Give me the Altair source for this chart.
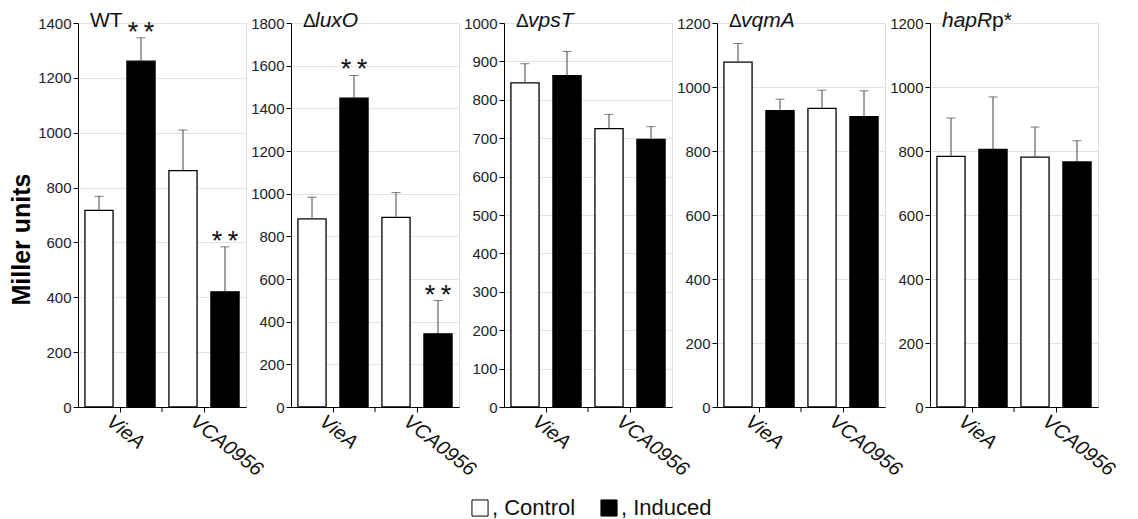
import altair as alt
import pandas as pd

FONT = "Liberation Sans"

panels = ["WT", "ΔluxO", "ΔvpsT", "ΔvqmA", "hapRp*"]
groups = ["VieA", "VCA0956"]
conditions = ["Control", "Induced"]

# order of bars in each panel: VieA Control, VieA Induced, VCA0956 Control, VCA0956 Induced
bar_group = ["VieA", "VieA", "VCA0956", "VCA0956"]
bar_cond = ["Control", "Induced", "Control", "Induced"]

means = {
    "WT":     [717, 1261, 862, 420],
    "ΔluxO":  [882, 1448, 889, 343],
    "ΔvpsT":  [844, 863, 725, 697],
    "ΔvqmA":  [1078, 926, 933, 907],
    "hapRp*": [783, 805, 781, 766],
}
err_tops = {
    "WT":     [768, 1346, 1010, 584],
    "ΔluxO":  [983, 1554, 1005, 499],
    "ΔvpsT":  [894, 926, 762, 730],
    "ΔvqmA":  [1136, 962, 990, 988],
    "hapRp*": [903, 969, 875, 832],
}
signif = {
    "WT":     [0, 1, 0, 1],
    "ΔluxO":  [0, 1, 0, 1],
    "ΔvpsT":  [0, 0, 0, 0],
    "ΔvqmA":  [0, 0, 0, 0],
    "hapRp*": [0, 0, 0, 0],
}
y_ticks = {
    "WT":     [0, 200, 400, 600, 800, 1000, 1200, 1400],
    "ΔluxO":  [0, 200, 400, 600, 800, 1000, 1200, 1400, 1600, 1800],
    "ΔvpsT":  [0, 100, 200, 300, 400, 500, 600, 700, 800, 900, 1000],
    "ΔvqmA":  [0, 200, 400, 600, 800, 1000, 1200],
    "hapRp*": [0, 200, 400, 600, 800, 1000, 1200],
}
# title pieces: (text, italic, x offset in px)
title_parts = {
    "WT":     [("WT", False, 0)],
    "ΔluxO":  [("Δ", False, 0), ("luxO", True, 12)],
    "ΔvpsT":  [("Δ", False, 0), ("vpsT", True, 12)],
    "ΔvqmA":  [("Δ", False, 0), ("vqmA", True, 12)],
    "hapRp*": [("hapR", True, 0), ("p*", False, 50)],
}

W, H = 168, 384


def make_panel(name, first):
    df = pd.DataFrame({
        "group": bar_group,
        "cond": bar_cond,
        "mean": means[name],
        "err": err_tops[name],
        "sig": signif[name],
    })
    base = alt.Chart(df)
    x = alt.X("group:N", sort=groups,
              scale=alt.Scale(paddingInner=0, paddingOuter=0),
              axis=alt.Axis(title=None, labelAngle=38, labelAlign="left",
                            labelBaseline="top", labelFont=FONT,
                            labelFontStyle="italic", labelFontSize=20,
                            labelColor="#111", labelPadding=-1, labelOffset=-5,
                            tickSize=5, tickColor="black", domainColor="black",
                            labelOverlap=False, grid=False))
    xo = alt.XOffset("cond:N", sort=conditions,
                     scale=alt.Scale(paddingInner=0.33, paddingOuter=0.165))
    yaxis = alt.Axis(values=y_ticks[name], format="d",
                     title="Miller units" if first else None,
                     titleFont=FONT, titleFontSize=25, titleFontWeight="bold",
                     titleColor="black", titlePadding=3, titleY=216,
                     labelFont=FONT, labelFontSize=15, labelColor="#222",
                     labelPadding=2, tickSize=5, tickColor="black",
                     domainColor="black", grid=True, gridColor="#e2e2e2",
                     gridWidth=1)
    yscale = alt.Scale(domain=[0, y_ticks[name][-1]], nice=False)

    bars = base.mark_bar(stroke="black", strokeWidth=1.3).encode(
        x=x, xOffset=xo,
        y=alt.Y("mean:Q", scale=yscale, axis=yaxis),
        fill=alt.Fill("cond:N", sort=conditions,
                      scale=alt.Scale(domain=conditions, range=["white", "black"]),
                      legend=alt.Legend(title=None, orient="none", legendX=391,
                                        legendY=474, direction="horizontal",
                                        symbolType="square", symbolSize=260,
                                        symbolStrokeColor="black",
                                        symbolStrokeWidth=1, labelFont=FONT,
                                        labelFontSize=22, labelColor="#111",
                                        labelOffset=1, columnPadding=22,
                                        labelExpr="', ' + datum.label")),
    )
    rules = base.mark_rule(color="#444", strokeWidth=1).encode(
        x=x, xOffset=xo,
        y=alt.Y("mean:Q", scale=yscale, axis=yaxis), y2="err:Q",
    )
    caps = base.mark_tick(color="#444", thickness=1, size=9, orient="horizontal").encode(
        x=x, xOffset=xo,
        y=alt.Y("err:Q", scale=yscale, axis=yaxis),
    )
    stars = base.transform_filter("datum.sig == 1").mark_text(
        font=FONT, fontSize=27, baseline="alphabetic", color="#111", dy=3
    ).encode(
        x=x, xOffset=xo,
        y=alt.Y("err:Q", scale=yscale, axis=yaxis),
        text=alt.value("*\u2009*"),
    )
    # extra x-axis tick at the boundary between the two groups
    boundary = alt.Chart(pd.DataFrame({"t": [0]})).mark_rule(
        color="black", strokeWidth=1
    ).encode(x=alt.value(W / 2), y=alt.value(H), y2=alt.value(H + 5))
    layers = [bars, rules, caps, stars, boundary]
    for text, italic, off in title_parts[name]:
        layers.append(
            alt.Chart(pd.DataFrame({"t": [text]})).mark_text(
                font=FONT, fontSize=19 if text == "Δ" else 21,
                fontStyle="italic" if italic else "normal",
                align="left", baseline="alphabetic", color="#111",
            ).encode(x=alt.value(12 + off), y=alt.value(4), text="t:N")
        )
    return alt.layer(*layers).properties(width=W, height=H)


chart = alt.hconcat(*[make_panel(p, i == 0) for i, p in enumerate(panels)],
                    spacing=45, bounds="flush").properties(
    padding={"left": 1, "top": 1, "right": 5, "bottom": 0}
).configure_view(stroke=None).configure(font=FONT)

chart.save("out.html", embed_options={"renderer": "svg", "actions": False})
